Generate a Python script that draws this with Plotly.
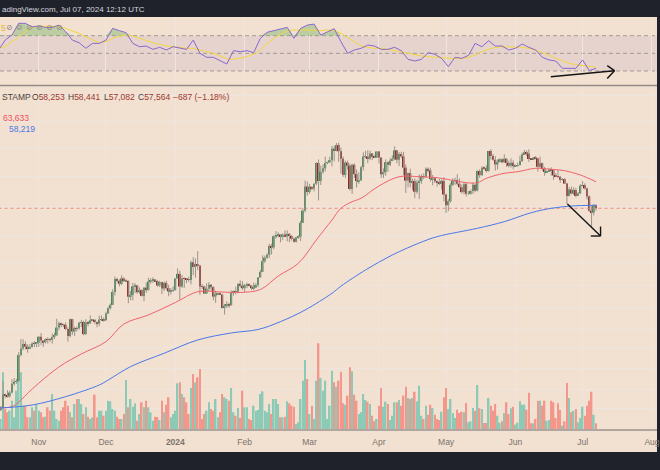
import plotly.graph_objects as go
import pandas as pd

W, H = 660, 470

# ---------------- data ----------------
first_open = 26850
last_open = 58253
close = [
    # Oct 14-31 2023
    26860, 27160, 28510, 28410, 28330, 28720, 29680, 29920, 29990, 33080, 33920, 34500, 34160, 33910, 34090, 34540, 34500, 34670,
    # Nov
    35440, 34940, 34730, 35080, 35050, 35040, 35420, 35640, 36700, 37320, 37130, 37070, 36500, 35540, 37880, 36160, 36600, 36590,
    37390, 37480, 35810, 37440, 37290, 37720, 37800, 37480, 37250, 37830, 37860, 37720,
    # Dec
    38690, 39480, 39980, 41990, 44090, 43780, 43290, 44170, 43730, 43790, 41250, 41490, 42890, 43030, 41940, 42260, 41360, 42660,
    42270, 43660, 43870, 43990, 43740, 43010, 43600, 42520, 43440, 42580, 42070, 42140, 42280,
    # Jan 2024
    44180, 44950, 42850, 44180, 44160, 43970, 43930, 46970, 46120, 46630, 46340, 42850, 42840, 41730, 42510, 43150, 42740, 41260,
    41620, 41670, 41560, 39500, 39850, 40080, 39940, 41800, 42120, 42030, 43300, 42950, 42580,
    # Feb
    43080, 43190, 43000, 42580, 42660, 43090, 44340, 45290, 47150, 47770, 48290, 49960, 49700, 51800, 51940, 52140, 51650, 52150,
    51780, 52280, 51850, 51320, 50740, 51570, 51730, 54480, 57050, 62500, 61200,
    # Mar
    62440, 62030, 63170, 68300, 63800, 66100, 66930, 68300, 68500, 69020, 72100, 71480, 73080, 71400, 69400, 65300, 68390, 67610,
    61930, 67840, 65500, 63800, 64000, 67230, 69960, 69990, 69470, 70790, 69900, 69670, 71330,
    # Apr
    69700, 65450, 65980, 68510, 67840, 68900, 69370, 71620, 69150, 70640, 70010, 67120, 63900, 65740, 63420, 63800, 61280, 63470,
    63820, 64990, 64930, 66840, 66410, 64280, 64500, 63770, 63460, 63120, 63840, 60640,
    # May
    58250, 59120, 62890, 63890, 64030, 63160, 62330, 61190, 63050, 60790, 60790, 61450, 62900, 61550, 66270, 65230, 67050, 66940,
    66270, 71450, 70140, 69120, 67930, 68530, 69290, 68510, 69390, 68320, 67590, 68350, 67490,
    # Jun
    67700, 67760, 68800, 70560, 71080, 70760, 69340, 69300, 69640, 69510, 67330, 68240, 66750, 66010, 66190, 66640, 66490, 65150,
    64960, 64830, 64100, 64250, 63180, 60280, 61800, 60860, 61670, 60320, 60880, 62680,
    # Jul 1-7
    62850, 62030, 60200, 57040, 56660, 58251, 57564,
]
high = [
    26990, 27290, 30000, 28610, 28980, 28930, 30200, 30330, 30230, 33450, 35150, 35120, 34830, 34450, 34480, 34750, 34880, 34720,
    35560, 35960, 34940, 35250, 35370, 35280, 35880, 35980, 37930, 37520, 37400, 37230, 37420, 36740, 37980, 37930, 36830, 36860,
    37530, 37770, 37670, 37870, 37630, 38420, 37900, 37830, 37550, 38390, 38420, 38150,
    38970, 39690, 40200, 42410, 44480, 44290, 44040, 44700, 44370, 44040, 43790, 42100, 43430, 43400, 43090, 42710, 42420, 42750,
    43490, 44280, 44240, 44380, 44000, 43940, 43780, 43610, 43680, 43790, 43120, 42600, 42890,
    44190, 45900, 45500, 44730, 44350, 44200, 44480, 47220, 47880, 47650, 48970, 46500, 43250, 43000, 43390, 43570, 43200, 42930,
    42200, 41870, 41890, 41700, 40130, 40530, 40290, 42220, 42200, 42830, 43310, 43860, 43740,
    43290, 43480, 43380, 43120, 43500, 43380, 44370, 45600, 48200, 48150, 48550, 50340, 50350, 52040, 52820, 52580, 52180, 52360,
    52960, 52980, 52360, 52020, 51540, 51690, 51960, 54910, 57560, 63900, 63680,
    63130, 62480, 63230, 68540, 69200, 67630, 67990, 69990, 68640, 69940, 72780, 72900, 73650, 73780, 72400, 70000, 68880, 68930,
    68090, 68100, 68200, 66620, 65960, 67550, 71100, 71500, 71640, 71520, 70900, 70330, 71340,
    71340, 69710, 66900, 69230, 68720, 69600, 70280, 72700, 71740, 71150, 71250, 71230, 67900, 65870, 66850, 64350, 64450, 64100,
    65420, 65410, 65680, 67200, 67160, 67060, 65290, 64770, 63900, 64300, 64200, 64720,
    60800, 59580, 63300, 64480, 64600, 65470, 64390, 62990, 63380, 63440, 61420, 61800, 63430, 63080, 66450, 66680, 67420, 67420,
    67680, 71480, 71950, 70650, 70080, 69200, 69550, 69500, 70600, 69580, 68880, 69500, 69000,
    67840, 68420, 70220, 71050, 71740, 71620, 71950, 69550, 69870, 70130, 69550, 69990, 68400, 67300, 66420, 66920, 67180, 66490,
    65700, 66480, 65050, 64500, 64520, 63350, 62300, 62500, 62300, 62170, 61210, 63020,
    63800, 63260, 62230, 60460, 58000, 58450, 58441,
]
low = [
    26810, 26800, 27110, 28110, 28170, 28170, 28620, 29470, 29690, 29890, 32900, 33700, 33760, 33380, 33850, 34040, 34080, 34080,
    34120, 34380, 34100, 34560, 34550, 34760, 34550, 35140, 35550, 36340, 36750, 36770, 36350, 34800, 35370, 35700, 35530, 36180,
    36410, 36770, 35650, 35680, 36880, 37260, 37620, 37170, 36740, 36890, 37620, 37520,
    37660, 38660, 39280, 39970, 41440, 43390, 42850, 43080, 43600, 43580, 40230, 40680, 40660, 41800, 41690, 41700, 41260, 40540,
    41820, 42210, 43330, 43420, 43580, 42800, 42760, 41640, 42120, 42310, 41300, 41560, 41980,
    42200, 44180, 40800, 42630, 42650, 43420, 43600, 43200, 44720, 44300, 45600, 41500, 42450, 41720, 41720, 42060, 42200, 40680,
    40280, 41480, 41500, 39450, 38550, 39500, 39500, 39830, 41400, 41620, 41810, 42690, 42300,
    41880, 42590, 42890, 42280, 42260, 42580, 42760, 44340, 45260, 46820, 47560, 47730, 48370, 49300, 51330, 51600, 50640, 51020,
    51720, 50800, 50630, 50950, 50560, 50580, 51300, 50900, 54460, 56700, 60360,
    60800, 61650, 61350, 62820, 59300, 62850, 65560, 66150, 67960, 68210, 67420, 68750, 71370, 68600, 65630, 64800, 64560, 66600,
    61550, 60780, 64550, 62260, 63120, 63790, 66400, 69560, 68250, 69050, 69100, 69550, 69600,
    68150, 64570, 64520, 65100, 66060, 67500, 68820, 69050, 68240, 67520, 69560, 65290, 61000, 62320, 62300, 61680, 59800, 60800,
    59600, 63140, 64280, 64510, 65860, 63700, 62780, 63350, 62450, 62850, 61800, 59100,
    56550, 56950, 58800, 62600, 62900, 62730, 62280, 60880, 60650, 60210, 60520, 60630, 60770, 61160, 61340, 64600, 65120, 66650,
    65900, 66100, 69170, 68870, 66350, 66650, 68470, 68250, 68250, 67310, 67160, 67140, 66700,
    67390, 67310, 67610, 68560, 70390, 70140, 68550, 69220, 69140, 69230, 66130, 66920, 66350, 65110, 65900, 66050, 65130, 64100,
    64700, 64530, 63400, 63950, 63100, 58500, 60270, 60690, 60600, 60030, 60320, 60750,
    62500, 61780, 59500, 56800, 53500, 56030, 57082,
]
# daily volume, hundreds of BTC (bar heights)
volume = [
    12,
    10, 56.7, 20, 16.7, 18.3, 28.3, 11.7, 38.3, 56.7, 56.7,
    23.3, 23.3, 11.7, 11.7, 21.7, 18.3, 24.3, 18.3, 16.7, 11.7,
    12.3, 21.7, 18.3, 35, 18.3, 10, 8.3, 18.3, 21.7, 28.3,
    23.3, 16.7, 11.7, 25, 30, 30, 25, 15, 21.7, 12.3,
    10, 11.7, 34.3, 11.7, 18.3, 18.3, 13.3, 18.3, 28.3, 27.7,
    20, 18.3, 12.3, 10, 10, 15, 49, 21.7, 30, 22.3,
    25.7, 8.3, 15, 26.7, 21.7, 28.3, 21.7, 16.7, 8.3, 12.3,
    12, 9, 28.3, 16.7, 24.3, 31.7, 11.7, 15, 18.3, 45.7,
    46.7, 35, 31.7, 26.7, 15, 41, 55, 46.7, 51.7, 60,
    10, 15, 18.3, 26.7, 20, 18.3, 30, 11.7, 16.7, 35,
    31.7, 30, 28.3, 41, 16.7, 13.3, 21, 11, 38.3, 21.7,
    21.7, 10, 9, 23.3, 18.3, 19, 35, 37.7, 18.3, 16.7,
    25, 15, 30, 30, 25, 11.7, 11.7, 12.3, 27.7, 25.7,
    23.3, 22.3, 5, 6.7, 30, 48.3, 69, 50, 15, 23.3,
    10, 48.3, 85.7, 51, 38.3, 48.3, 10,
    23.3, 58.3, 46.7, 42.3, 48.3, 57.3, 25.7, 24.3, 33.3, 61.7,
    57.7, 34.3, 28.3, 15, 16.7, 35, 29, 27.3, 25, 13.3,
    7.7, 10, 23.3, 41, 22.3, 27.3, 25, 9, 13.3, 26.7,
    26.7, 29, 23.3, 33.3, 42.3, 31, 30, 31, 37.3, 27.7,
    43.3, 13.3, 10, 23.3, 14.3, 24.3, 21, 14.3, 10, 9,
    17.3, 31.7, 41, 20, 30, 16, 11, 19.3, 16, 17.3,
    16.7, 26, 6.7, 7.7, 21, 18.3, 44, 20.7, 20, 6,
    6, 31, 23.3, 18.3, 25, 13.3, 6.3, 7.7, 16, 26.7,
    15, 20.7, 22.3, 4.3, 6.3, 27.7, 24.3, 24.3, 19.3, 36.3,
    5.7, 5.7, 10, 28.3, 28.3, 23.3, 28.3, 8.3, 9, 28.3,
    26.7, 11, 25.7, 19.3, 3.3, 7.7, 46, 31, 16.7, 18.3,
    20, 6.7, 11, 22.3, 13.3, 23.3, 28.3, 37.3, 14.3, 5.7,
]
# RSI(14) and its moving average, sampled every 3 days from Oct 14 2023
rsi_start = "2023-10-14"
rsi = [
    53.8, 65.1, 70.8, 84, 84, 80, 81, 79.4, 79.4, 82,
    74.5, 65, 62, 55.7, 61.3, 61.3, 65, 78.3, 75.7, 73.4,
    61.3, 57.5, 58.3, 54.5, 56.8, 53.8, 57.5, 55.7, 54.5, 65,
    50, 45.5, 45.5, 41.7, 37.9, 53, 51.9, 53, 50.8, 67,
    73.8, 75.7, 77.9, 79.4, 67, 78.3, 82, 83.2, 70.8, 74.5,
    77.9, 63.2, 50, 53.8, 55.7, 59.4, 58.3, 54.5, 54.5, 56.8,
    53, 43.2, 41.3, 43.2, 50.8, 48.9, 44.3, 34.9, 45.5, 44.3,
    47.7, 61.3, 57.5, 64.3, 58.3, 58.3, 53.8, 55.7, 60.6, 56.8,
    53.8, 45.5, 42.5, 41.3, 33, 33, 33, 42.5, 30.4, 33,
]
rsi_ma = [
    55.7, 57.5, 63.2, 68.1, 74.5, 79.4, 81, 81, 81, 80.2,
    78.3, 75.7, 72.6, 68.9, 65, 62, 63.2, 67, 69.6, 70.8,
    69.6, 67, 64.3, 62, 60.2, 58.3, 57.5, 56.4, 55.7, 55.7,
    53.8, 51.9, 50, 47, 44, 43.2, 44.3, 46.2, 49.2, 53.8,
    61.3, 67, 71.5, 75.3, 76.4, 76.4, 77.2, 76.4, 75.7, 76.4,
    75.7, 72.6, 68.1, 63.2, 58.3, 56.8, 55.7, 55.7, 54.5, 53.8,
    51.9, 50, 48.1, 47, 46.2, 45.5, 44.7, 44.3, 44, 44.3,
    45.5, 48.1, 51.9, 54.5, 56.8, 57.5, 57.5, 57.5, 56.8, 55.7,
    53.8, 50.8, 48.1, 44.3, 41.3, 38.7, 37.2, 36.4, 35.3, 34.2,
]
ma50_dates = ["2023-10-14", "2023-10-20", "2023-10-23", "2023-10-29", "2023-11-10", "2023-11-20", "2023-12-01",
              "2023-12-09", "2023-12-20", "2024-01-01", "2024-01-11", "2024-01-21", "2024-01-30", "2024-02-08",
              "2024-02-16", "2024-02-25", "2024-03-04", "2024-03-11", "2024-03-15", "2024-03-20", "2024-03-24",
              "2024-04-01", "2024-04-10", "2024-04-19", "2024-04-27", "2024-05-03", "2024-05-10", "2024-05-15",
              "2024-05-19", "2024-05-27", "2024-06-02", "2024-06-10", "2024-06-17", "2024-06-23", "2024-06-30",
              "2024-07-07"]
ma50 = [27100, 27230, 27710, 29100, 31630, 33220, 34800, 37200, 38490, 40340, 42020, 41980, 41900, 42370,
        44580, 46780, 51080, 55080, 57560, 59010, 59780, 62630, 64850, 64850, 64610, 64050, 63400, 63400,
        64470, 65690, 66090, 66940, 66690, 66340, 65270, 63633]
ma200_dates = ["2023-10-14", "2023-10-29", "2023-11-13", "2023-11-28", "2023-12-02", "2023-12-12", "2023-12-27",
               "2024-01-11", "2024-01-26", "2024-02-07", "2024-02-17", "2024-02-28", "2024-03-11", "2024-03-15",
               "2024-03-26", "2024-04-07", "2024-04-19", "2024-04-27", "2024-05-15", "2024-05-27", "2024-06-08",
               "2024-06-17", "2024-06-26", "2024-07-07"]
ma200 = [27090, 27400, 28280, 29550, 30110, 31670, 33310, 35020, 35960, 36440, 37530, 39220, 41770, 42900,
         45610, 48270, 50500, 51720, 53380, 54730, 56610, 57560, 58060, 58219]
month_ticks = ["2023-11-01", "2023-12-01", "2024-01-01", "2024-02-01", "2024-03-01", "2024-04-01",
               "2024-05-01", "2024-06-01", "2024-07-01", "2024-08-01"]
month_labels = ["Nov", "Dec", "<b>2024</b>", "Feb", "Mar", "Apr", "May", "Jun", "Jul", "Aug"]
price_grid = [27000, 29000, 31500, 34000, 36500, 39500, 43000, 47000, 52000, 58000, 65000, 72000, 80000, 88000]

# ---------------- derived ----------------
dates = pd.date_range("2023-10-14", periods=len(close), freq="D")
opens = [first_open] + close[:-1]
opens[-1] = last_open
up = [c >= o for o, c in zip(opens, close)]
rsi_dates = pd.date_range(rsi_start, periods=len(rsi), freq="3D")

BG = "#f2e0d0"
GRID = "#ede5df"
UP, DN, WICK = "#468a58", "#8e2b25", "#9a938d"
VUP, VDN = "#8ccab6", "#f3978c"
FONT = "Liberation Sans, Arial, sans-serif"
DAY = 86400000


def px_x(p):
    return p / W


def px_y(p):
    return 1 - p / H


fig = go.Figure()

# volume (base axis of the main pane)
n = min(len(dates), len(volume))
fig.add_trace(go.Bar(x=dates[:n], y=volume[:n], width=0.72 * DAY,
                     marker=dict(color=[VUP if u else VDN for u in up[:n]], line=dict(width=0)),
                     xaxis="x", yaxis="y2", hoverinfo="skip"))

# last price line
fig.add_trace(go.Scatter(x=[dates[0], pd.Timestamp("2024-08-05")], y=[close[-1], close[-1]], mode="lines",
                         line=dict(color="#ef8a80", width=1, dash="dot"), xaxis="x", yaxis="y3", hoverinfo="skip"))

# wicks
wx, wy = [], []
for d, h, l in zip(dates, high, low):
    wx += [d, d, None]
    wy += [l, h, None]
fig.add_trace(go.Scatter(x=wx, y=wy, mode="lines", line=dict(color=WICK, width=1),
                         xaxis="x", yaxis="y3", hoverinfo="skip"))

# bodies
fig.add_trace(go.Bar(x=dates, base=[min(o, c) for o, c in zip(opens, close)],
                     y=[max(abs(c - o), 1) for o, c in zip(opens, close)], width=0.8 * DAY,
                     marker=dict(color=[UP if u else DN for u in up], line=dict(width=0)),
                     xaxis="x", yaxis="y3", hoverinfo="skip"))

# moving averages
fig.add_trace(go.Scatter(x=ma50_dates, y=ma50, mode="lines", line=dict(color="#f0636c", width=1, shape="spline"),
                         xaxis="x", yaxis="y3", hoverinfo="skip"))
fig.add_trace(go.Scatter(x=ma200_dates, y=ma200, mode="lines", line=dict(color="#4a78ea", width=1, shape="spline"),
                         xaxis="x", yaxis="y3", hoverinfo="skip"))

# RSI pane
fig.add_trace(go.Scatter(x=rsi_dates, y=[70] * len(rsi), mode="lines", line=dict(width=0),
                         xaxis="x", yaxis="y", hoverinfo="skip"))
fig.add_trace(go.Scatter(x=rsi_dates, y=[max(v, 70) for v in rsi], mode="lines", line=dict(width=0),
                         fill="tonexty", fillcolor="rgba(110,178,95,0.40)", xaxis="x", yaxis="y", hoverinfo="skip"))
fig.add_trace(go.Scatter(x=rsi_dates, y=rsi_ma, mode="lines", line=dict(color="#f2d640", width=1),
                         xaxis="x", yaxis="y", hoverinfo="skip"))
fig.add_trace(go.Scatter(x=rsi_dates, y=rsi, mode="lines", line=dict(color="#8768cf", width=1),
                         xaxis="x", yaxis="y", hoverinfo="skip"))

shapes = [
    dict(type="rect", xref="paper", yref="paper", x0=0, x1=1, y0=px_y(452), y1=px_y(17),
         fillcolor=BG, line=dict(width=0), layer="below"),
    dict(type="rect", xref="paper", yref="y", x0=0, x1=1, y0=30, y1=70,
         fillcolor="rgba(126,87,194,0.09)", line=dict(width=0), layer="below"),
]
for lv in (70, 50, 30):
    shapes.append(dict(type="line", xref="paper", yref="y", x0=0, x1=1, y0=lv, y1=lv,
                       line=dict(color="#a29a94", width=1, dash="4px,3px"), layer="below"))
# pane separators
shapes.append(dict(type="line", xref="paper", yref="paper", x0=0, x1=1, y0=px_y(85.5), y1=px_y(85.5),
                   line=dict(color="#948d87", width=1.5)))
shapes.append(dict(type="line", xref="paper", yref="paper", x0=0, x1=1, y0=px_y(430), y1=px_y(430),
                   line=dict(color="#aea69f", width=2)))
# hand-drawn arrows (author's drawings)
arrow_segments = [
    ((553.3, 76.7), (617.3, 70.7)), ((610, 65.7), (617.3, 70.7)), ((610, 78.5), (617.3, 70.7)),
    ((570, 204), (603.3, 236)), ((593.5, 236), (603.3, 236)), ((603.3, 226.5), (603.3, 236)),
]
for (ax0, ay0), (ax1, ay1) in arrow_segments:
    shapes.append(dict(type="line", xref="paper", yref="paper", x0=px_x(ax0), y0=px_y(ay0),
                       x1=px_x(ax1), y1=px_y(ay1), line=dict(color="#151515", width=1.4)))

DARK = "#4a3d38"
VAL = "#a0382f"
chg = close[-1] - close[-2]
pct = chg / close[-2] * 100


def fmt(v):
    return f"{v:,}".replace("-", "−")


annotations = [
    dict(x=0, y=px_y(9.5), text="adingView.com, Jul 07, 2024 12:12 UTC", font=dict(color="#d4d6dc", size=8)),
    dict(x=px_x(0), y=px_y(97), text="STAMP", font=dict(color=DARK, size=8.5)),
    dict(x=px_x(30), y=px_y(97), text=f"O<span style='color:{VAL}'>{fmt(opens[-1])}</span>", font=dict(color=DARK, size=8.5)),
    dict(x=px_x(66.5), y=px_y(97), text=f"H<span style='color:{VAL}'>{fmt(high[-1])}</span>", font=dict(color=DARK, size=8.5)),
    dict(x=px_x(102.5), y=px_y(97), text=f"L<span style='color:{VAL}'>{fmt(low[-1])}</span>", font=dict(color=DARK, size=8.5)),
    dict(x=px_x(136.5), y=px_y(97), text=f"C<span style='color:{VAL}'>{fmt(close[-1])}</span>", font=dict(color=DARK, size=8.5)),
    dict(x=px_x(171.5), y=px_y(97), text=f"{fmt(chg)} ({'−' if pct < 0 else '+'}{abs(pct):.2f}%)", font=dict(color=VAL, size=8.5)),
    dict(x=px_x(1), y=px_y(118), text=fmt(ma50[-1]), font=dict(color="#f0505c", size=8.5)),
    dict(x=px_x(7), y=px_y(129), text=fmt(ma200[-1]), font=dict(color="#4a78ea", size=8.5)),
    dict(x=px_x(-1), y=px_y(28), text="5", font=dict(color="#dcbc38", size=8.5)),
]
for ix in (10, 20, 30, 40, 50, 60):
    annotations.append(dict(x=px_x(ix), y=px_y(28), text="⊘", xanchor="center",
                            font=dict(color="#8f8a86", size=8, family="DejaVu Sans")))
for a in annotations:
    a.setdefault("xref", "paper")
    a.setdefault("yref", "paper")
    a.setdefault("xanchor", "left")
    a.setdefault("yanchor", "middle")
    a["showarrow"] = False
    a["font"].setdefault("family", FONT)

fig.update_layout(
    width=W, height=H, margin=dict(l=0, r=0, t=0, b=0),
    paper_bgcolor="#1f222b", plot_bgcolor="rgba(0,0,0,0)",
    showlegend=False, barmode="overlay", font=dict(family=FONT),
    xaxis=dict(type="date", domain=[0, 1], anchor="y2",
               range=["2023-10-14 15:36", "2024-08-03 06:00"],
               tickvals=month_ticks, ticktext=month_labels, ticks="",
               tickfont=dict(size=8.5, color="#7b736c", family=FONT), ticklabelstandoff=6,
               ticklabeloverflow="allow",
               showgrid=True, gridcolor=GRID, gridwidth=1, zeroline=False, showline=False),
    yaxis=dict(domain=[px_y(85), px_y(17)], range=[14.1, 91.2], showgrid=False,
               showticklabels=False, zeroline=False, anchor="x"),
    yaxis2=dict(domain=[px_y(429), px_y(86)], range=[0, 343], showgrid=False,
                showticklabels=False, zeroline=False, anchor="x"),
    yaxis3=dict(overlaying="y2", type="log", range=[4.39844, 4.96057], tickvals=price_grid,
                showticklabels=False, showgrid=True, gridcolor=GRID, gridwidth=1, zeroline=False,
                anchor="x", side="right"),
    shapes=shapes, annotations=annotations,
)

fig.write_html("out.html", config={"displayModeBar": False},
               post_script="document.body.style.margin='0';document.body.style.background='#1f222b';")
